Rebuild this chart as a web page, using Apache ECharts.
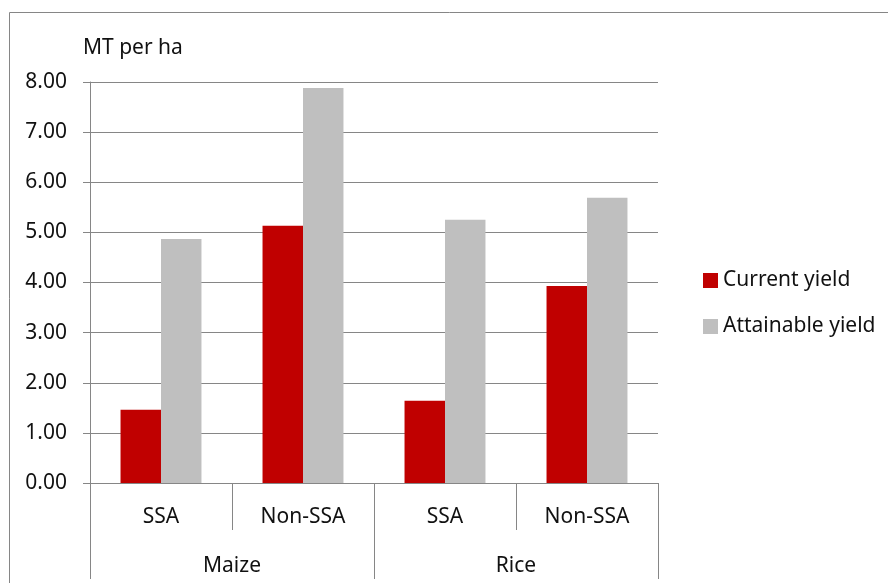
<!DOCTYPE html>
<html>
<head>
<meta charset="utf-8">
<script src="https://cdn.jsdelivr.net/npm/echarts@6/dist/echarts.min.js"></script>
<style>
  html, body { margin: 0; padding: 0; background: #fff; }
  #chart { width: 888px; height: 583px; }
</style>
</head>
<body>
<div id="chart"></div>
<script>
// data
var regions = ["SSA", "Non-SSA", "SSA", "Non-SSA"];
var crops = ["Maize", "Rice"];
var currentYield = [1.46, 5.13, 1.64, 3.93];
var attainableYield = [4.87, 7.88, 5.25, 5.69];
var yTicks = { min: 0, max: 8, step: 1 };

var lineColor = "#868686";
var font = "Noto Sans";
var fs = 21;

var chart = echarts.init(document.getElementById("chart"));

var option = {
  animation: false,
  textStyle: { fontFamily: font, color: "#111" },
  title: {
    text: "MT per ha",
    left: 78,
    top: 33,
    textStyle: { fontFamily: font, fontSize: fs, fontWeight: "normal", color: "#111" }
  },
  graphic: [
    {
      type: "rect",
      shape: { x: 9.5, y: 12.5, width: 900, height: 600 },
      style: { fill: "none", stroke: lineColor, lineWidth: 1 },
      silent: true
    }
  ],
  legend: {
    orient: "vertical",
    left: 698,
    top: 265,
    itemWidth: 15,
    itemHeight: 15,
    itemGap: 25,
    icon: "rect",
    textStyle: { fontFamily: font, fontSize: fs, color: "#111" },
    data: ["Current yield", "Attainable yield"]
  },
  grid: { left: 90, right: 230, top: 82, bottom: 100 },
  xAxis: [
    {
      type: "category",
      data: regions,
      position: "bottom",
      axisLine: { show: true, lineStyle: { color: lineColor } },
      axisTick: { show: true, length: 47, lineStyle: { color: lineColor } },
      axisLabel: { margin: 24, fontSize: fs, color: "#111", fontFamily: font }
    },
    {
      type: "category",
      data: crops,
      position: "bottom",
      axisLine: { show: true, lineStyle: { color: lineColor } },
      axisTick: { show: true, length: 96, lineStyle: { color: lineColor } },
      axisLabel: { margin: 73, fontSize: fs, color: "#111", fontFamily: font }
    }
  ],
  yAxis: {
    type: "value",
    min: yTicks.min,
    max: yTicks.max,
    interval: yTicks.step,
    axisLine: { show: true, lineStyle: { color: lineColor } },
    axisTick: { show: true, length: 7, lineStyle: { color: lineColor } },
    splitLine: { lineStyle: { color: lineColor, width: 1 } },
    axisLabel: {
      margin: 23,
      fontSize: fs,
      color: "#111",
      fontFamily: font,
      formatter: function (v) { return v.toFixed(2); }
    }
  },
  series: [
    {
      name: "Current yield",
      type: "bar",
      xAxisIndex: 0,
      data: currentYield,
      barGap: "0%",
      barCategoryGap: "43%",
      itemStyle: { color: "#C00000" }
    },
    {
      name: "Attainable yield",
      type: "bar",
      xAxisIndex: 0,
      data: attainableYield,
      itemStyle: { color: "#BFBFBF" }
    }
  ]
};

chart.setOption(option);
</script>
</body>
</html>
